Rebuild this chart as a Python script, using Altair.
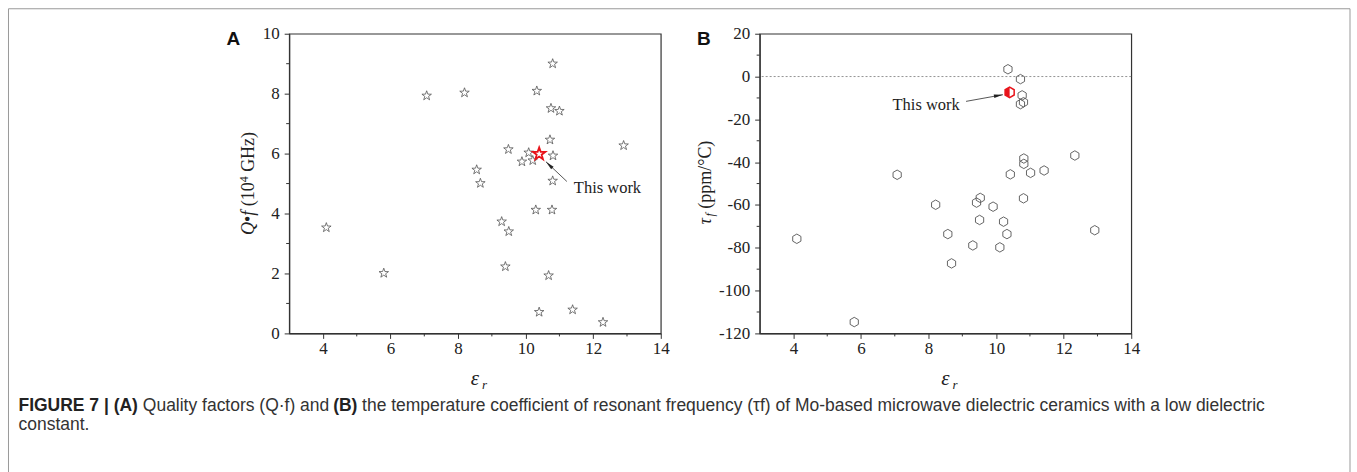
import altair as alt
import pandas as pd

# ---------------- data ----------------
eps_a = [4.10, 5.80, 7.07, 8.19, 8.55, 8.66, 9.29, 9.40, 9.50, 9.49, 9.89, 10.09, 10.21, 10.33,
         10.30, 10.40, 10.68, 10.72, 10.75, 10.78, 10.80, 10.81, 10.80, 11.00, 11.39, 12.29, 12.90]
qf_a = [3.53, 2.01, 7.93, 8.03, 5.46, 5.01, 3.73, 2.23, 3.40, 6.14, 5.73, 6.03, 5.77, 8.09,
        4.12, 0.71, 1.93, 6.46, 7.51, 4.12, 5.09, 5.93, 9.00, 7.42, 0.79, 0.37, 6.27]

eps_b = [10.35, 10.72, 10.77, 10.81, 10.72, 10.82, 10.82, 12.33, 10.42, 11.02, 11.42, 7.07, 8.21, 9.53,
         9.42, 9.91, 10.81, 9.51, 10.22, 8.57, 10.32, 9.31, 10.11, 12.92, 8.68, 4.10, 5.80]
tau_b = [3.4, -1.2, -8.8, -12.0, -12.9, -38.3, -40.8, -36.9, -45.7, -45.0, -43.9, -45.9, -59.9, -56.7,
         -58.9, -60.8, -56.9, -67.0, -67.8, -73.6, -73.6, -78.9, -79.8, -71.8, -87.3, -75.8, -114.7]

this_eps_a, this_qf = [10.40], [5.99]
this_eps_b, this_tau = [10.40], [-7.4]

# annotation arrows (data coords): start -> tip
arrow_a = {"x": [11.22], "y": [5.07], "x2": [10.60], "y2": [5.73]}
arrow_b = {"x": [9.11], "y": [-11.6], "x2": [10.20], "y2": [-8.5]}

x_major = [4, 6, 8, 10, 12, 14]
x_minor = [5, 7, 9, 11, 13]
qf_major = [0, 2, 4, 6, 8, 10]
qf_minor = [1, 3, 5, 7, 9]
tau_major = [-120, -100, -80, -60, -40, -20, 0, 20]
tau_minor = [-110, -90, -70, -50, -30, -10, 10]
zero_line = [0]

# ---------------- shapes ----------------
STAR = ("M0,-1L0.235,-0.324L0.951,-0.309L0.38,0.124L0.588,0.809L0,0.4L-0.588,0.809"
        "L-0.38,0.124L-0.951,-0.309L-0.235,-0.324Z")
HEX = "M0,-1L0.866,-0.5L0.866,0.5L0,1L-0.866,0.5L-0.866,-0.5Z"
HALF_HEX = "M0,-1L-0.866,-0.5L-0.866,0.5L0,1Z"
ARROW = "M0,0L0.35,1.8L-0.35,1.8Z"

SERIF = "Liberation Serif"
SANS = "Liberation Sans"
W, H = 372, 300
AX = "#333"
LFS = 17

x_scale = alt.Scale(domain=[3, 14], nice=False, zero=False)
qf_scale = alt.Scale(domain=[0, 10], nice=False, zero=False)
tau_scale = alt.Scale(domain=[-120, 20], nice=False, zero=False)

x_axis = alt.Axis(values=x_major, title=None, grid=False, labelFlush=False, labelOverlap=False,
                  tickSize=5, labelPadding=2, labelFont=SERIF, labelFontSize=LFS, labelColor="#222")
qf_axis = alt.Axis(values=qf_major, title=None, grid=False, labelFlush=False, labelOverlap=False,
                   tickSize=5, labelPadding=5, labelFont=SERIF, labelFontSize=LFS, labelColor="#222")
tau_axis = alt.Axis(values=tau_major, title=None, grid=False, labelFlush=False, labelOverlap=False,
                    labelExpr="'' + datum.value", tickSize=5, labelPadding=5,
                    labelFont=SERIF, labelFontSize=LFS, labelColor="#222")


def X(field):
    return alt.X(field, scale=x_scale, axis=x_axis)


def YA(field):
    return alt.Y(field, scale=qf_scale, axis=qf_axis)


def YB(field):
    return alt.Y(field, scale=tau_scale, axis=tau_axis)


def txt(s, x, y, size=16, font=SERIF, style="normal", weight="normal", angle=0,
        align="left", baseline="middle", color="#222"):
    return alt.Chart(pd.DataFrame({"t": [s]})).mark_text(
        text=s, font=font, fontSize=size, fontStyle=style, fontWeight=weight,
        angle=angle, align=align, baseline=baseline, color=color
    ).encode(x=alt.value(x), y=alt.value(y))


def rule(x, y, x2=None, y2=None):
    enc = {"x": alt.value(x), "y": alt.value(y)}
    if x2 is not None:
        enc["x2"] = alt.value(x2)
    if y2 is not None:
        enc["y2"] = alt.value(y2)
    return alt.Chart(pd.DataFrame({"a": [0]})).mark_rule(color="#9a9a9a", strokeWidth=1).encode(**enc)


def minor_x(vals):
    return alt.Chart(pd.DataFrame({"v": vals})).mark_rule(color=AX, strokeWidth=1).encode(
        x=X("v:Q"), y=alt.value(H), y2=alt.value(H + 3))


def minor_y(vals, Yf):
    return alt.Chart(pd.DataFrame({"v": vals})).mark_rule(color=AX, strokeWidth=1).encode(
        y=Yf("v:Q"), x=alt.value(0), x2=alt.value(-3))


# ---------------- panel A ----------------
df_a = pd.DataFrame({"eps": eps_a, "qf": qf_a})
stars = alt.Chart(df_a).mark_point(shape=STAR, size=100, filled=False, stroke="#555",
                                   strokeWidth=0.8, opacity=1).encode(x=X("eps:Q"), y=YA("qf:Q"))
red_star = alt.Chart(pd.DataFrame({"eps": this_eps_a, "qf": this_qf})).mark_point(
    shape=STAR, size=170, filled=False, stroke="#e8141b", strokeWidth=1.8, opacity=1).encode(
    x=X("eps:Q"), y=YA("qf:Q"))

arr_a_df = pd.DataFrame(arrow_a)
arr_a_line = alt.Chart(arr_a_df).mark_rule(color="#444", strokeWidth=0.9).encode(
    x=X("x:Q"), y=YA("y:Q"), x2="x2:Q", y2="y2:Q")
arr_a_head = alt.Chart(arr_a_df).mark_point(shape=ARROW, size=100, filled=True, color="#222",
                                            angle=314, opacity=1).encode(x=X("x2:Q"), y=YA("y2:Q"))

# y-title pieces for A (rotated, reading bottom to top)
ax = -40
a_title = [
    txt("Q", ax, 201.6, size=18, style="italic", angle=270),
    txt("•", ax, 188.6, size=18, angle=270),
    txt("f", ax, 182.3, size=18, style="italic", angle=270),
    txt("(10", ax, 172.8, size=18, angle=270),
    txt("4", ax - 5, 148.8, size=12, angle=270),
    txt("GHz)", ax, 138.3, size=18, angle=270),
]
a_xtitle = [
    txt("ε", 186, 346, size=21, style="italic", align="center"),
    txt("r", 193, 352, size=13, style="italic"),
]

# caption (relative to panel A origin)
cy1, cy2 = 373, 392
CS = 17.5
caption = [
    txt("FIGURE 7 | (A)", -271, cy1, size=CS, font=SANS, weight="bold", color="#222"),
    txt("Quality factors (Q·f) and", -146.5, cy1, size=CS, font=SANS, color="#333"),
    txt("(B)", 44, cy1, size=CS, font=SANS, weight="bold", color="#222"),
    txt("the temperature coefficient of resonant frequency (τf) of Mo-based microwave dielectric "
        "ceramics with a low dielectric", 73, cy1, size=CS, font=SANS, color="#333"),
    txt("constant.", -271, cy2, size=CS, font=SANS, color="#333"),
]

frame = [
    rule(-281, -25, x2=1062),
    rule(-281, -25, y2=440),
    rule(1062, -25, y2=440),
]

panel_a = alt.layer(
    stars, *frame, *caption,
    minor_x(x_minor), minor_y(qf_minor, YA),
    red_star, arr_a_line, arr_a_head,
    txt("This work", 285, 154, size=16.5),
    *a_title, *a_xtitle,
    txt("A", -56, 5, size=19, font=SANS, weight="bold", align="center", color="#111"),
).properties(width=W, height=H)

# ---------------- panel B ----------------
df_b = pd.DataFrame({"eps": eps_b, "tau": tau_b})
zero = alt.Chart(pd.DataFrame({"tau": zero_line})).mark_rule(
    color="#777", strokeWidth=0.8, strokeDash=[2, 2]).encode(y=YB("tau:Q"))
hexes = alt.Chart(df_b).mark_point(shape=HEX, size=90, filled=False, stroke="#555",
                                   strokeWidth=0.9, opacity=1).encode(x=X("eps:Q"), y=YB("tau:Q"))
this_b_df = pd.DataFrame({"eps": this_eps_b, "tau": this_tau})
red_half = alt.Chart(this_b_df).mark_point(shape=HALF_HEX, size=110, filled=True, color="#e8141b",
                                           opacity=1).encode(x=X("eps:Q"), y=YB("tau:Q"))
red_hex = alt.Chart(this_b_df).mark_point(shape=HEX, size=110, filled=False, stroke="#e8141b",
                                          strokeWidth=1.5, opacity=1).encode(x=X("eps:Q"), y=YB("tau:Q"))

arr_b_df = pd.DataFrame(arrow_b)
arr_b_line = alt.Chart(arr_b_df).mark_rule(color="#444", strokeWidth=0.9).encode(
    x=X("x:Q"), y=YB("y:Q"), x2="x2:Q", y2="y2:Q")
arr_b_head = alt.Chart(arr_b_df).mark_point(shape=ARROW, size=100, filled=True, color="#222",
                                            angle=80, opacity=1).encode(x=X("x2:Q"), y=YB("y2:Q"))

bx = -54
b_title = [
    txt("τ", bx, 191, size=18, style="italic", angle=270),
    txt("f", bx + 4, 183, size=12, style="italic", angle=270),
    txt("(ppm/°C)", bx, 175.2, size=18, angle=270),
]
b_xtitle = [
    txt("ε", 186, 346, size=21, style="italic", align="center"),
    txt("r", 193, 352, size=13, style="italic"),
]

panel_b = alt.layer(
    hexes, zero, minor_x(x_minor), minor_y(tau_minor, YB),
    red_half, red_hex, arr_b_line, arr_b_head,
    txt("This work", 133, 71, size=16.5),
    *b_title, *b_xtitle,
    txt("B", -56, 5, size=19, font=SANS, weight="bold", align="center", color="#111"),
).properties(width=W, height=H)

chart = alt.hconcat(panel_a, panel_b, spacing=99, bounds="flush").properties(
    padding={"left": 6.5, "top": 6.5, "right": 5, "bottom": 0},
    background="white",
).configure_axis(
    labelFont=SERIF, labelFontSize=LFS, labelColor="#222",
    domainColor=AX, domainWidth=1.2, tickColor=AX, tickWidth=1,
).configure_view(stroke=AX, strokeWidth=1.2)

chart.save("out.html", embed_options={"renderer": "svg", "actions": False})
